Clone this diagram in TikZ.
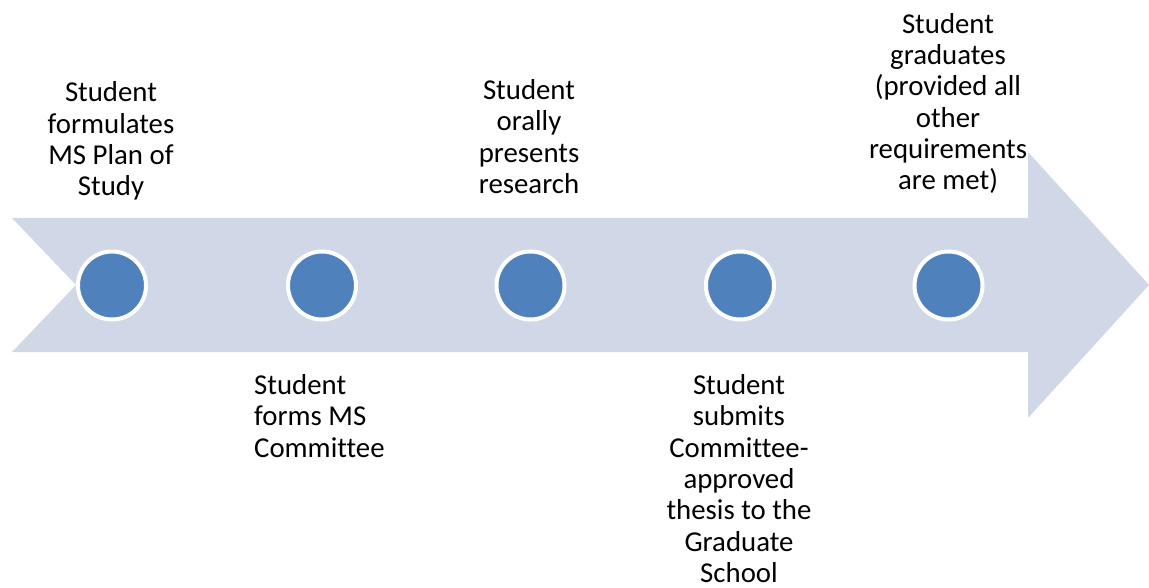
\documentclass[tikz,border=0pt]{standalone}
\usepackage{fontspec}
\setmainfont{Carlito}[Ligatures={NoCommon}]
\definecolor{arrowfill}{HTML}{D0D8E8}
\definecolor{dotblue}{HTML}{4F81BD}
\begin{document}
\begin{tikzpicture}[x=1pt,y=-1pt,
  dot/.style={circle,fill=dotblue,draw=white,line width=4pt,minimum size=68pt,inner sep=0pt},
  lbl/.style={font=\fontsize{28.8}{31.3}\selectfont,inner sep=0pt,align=center,text=black}]
\useasboundingbox (0,0) rectangle (1149,588);
\fill[arrowfill] (12,218) -- (1028,218) -- (1028,152) -- (1149,285) -- (1028,418) -- (1028,352) -- (12,352) -- (76,285) -- cycle;
\node[dot] (d1) at (112,285.5) {};
\node[dot] (d2) at (322,285.5) {};
\node[dot] (d3) at (530.5,285.5) {};
\node[dot] (d4) at (740,285.5) {};
\node[dot] (d5) at (948.5,285.5) {};
\node[lbl] (t1) at (111,141) {Student\\formulates\\MS Plan of\\Study};
\node[lbl,align=left,anchor=west] (t2) at (254,416) {Student\\forms MS\\Committee};
\node[lbl] (t3) at (529,136.5) {Student\\orally\\presents\\research};
\node[lbl] (t4) at (739,478.5) {Student\\submits\\Committee-\\approved\\thesis to the\\Graduate\\School};
\node[lbl] (t5) at (948,103.5) {Student\\graduates\\(provided all\\other\\requirements\\are met)};
\end{tikzpicture}
\end{document}
